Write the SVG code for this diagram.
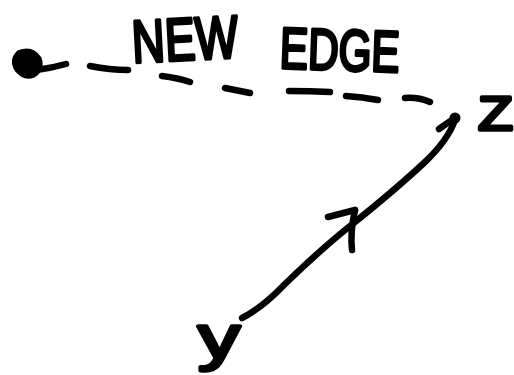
<svg xmlns="http://www.w3.org/2000/svg" width="514" height="375" viewBox="0 0 514 375">
<style>
.ln{fill:none;stroke:#000;stroke-width:6.5;stroke-linecap:round;stroke-linejoin:round}
.lbl{font-family:"Liberation Sans","DejaVu Sans",sans-serif;fill:#000;stroke:#000;stroke-width:3.5;stroke-linejoin:round}
</style>
<rect width="514" height="375" fill="#fff"/>
<g id="node-start">
<path d="M18 52 Q32 46 40 58 Q44 70 34 76 Q24 80 16 70 Q10 60 18 52 Z" fill="#000" stroke="#000" stroke-width="3"/>
</g>
<g id="node-z">
<circle cx="455" cy="118" r="5.5" fill="#000"/>
<text class="lbl" x="478" y="130" font-size="48" textLength="35" lengthAdjust="spacingAndGlyphs">Z</text>
</g>
<g id="node-y">
<text class="lbl" x="198" y="358" font-size="62" textLength="42" lengthAdjust="spacingAndGlyphs">y</text>
</g>
<g id="connectors">
<g id="edge-new">
<path class="ln" d="M36 70 Q52 68 66 64"/>
<path class="ln" d="M90 66 Q110 70 128 70"/>
<path class="ln" d="M162 76 Q178 78 190 82"/>
<path class="ln" d="M225 88 Q240 91 250 93"/>
<path class="ln" d="M289 91 Q310 91 330 92"/>
<path class="ln" d="M346 96 Q362 97 378 100"/>
<path class="ln" d="M405 98 Q418 97 430 102"/>
<path class="ln" d="M439 129 Q446 124 452 120"/>
</g>
<g id="edge-y-z">
<path class="ln" d="M242 318 Q262 308 285 284 Q320 250 350 226 Q395 190 425 162 Q448 140 455 120"/>
<path class="ln" d="M328 217 L355 210"/>
<path class="ln" d="M355 210 Q350 232 352 250" stroke-width="8"/>
</g>
<text class="lbl" x="132" y="60" font-size="60" textLength="106" lengthAdjust="spacingAndGlyphs" transform="rotate(-3 185 40)">NEW</text>
<text class="lbl" x="280" y="70" font-size="58" textLength="120" lengthAdjust="spacingAndGlyphs" transform="rotate(2 340 45)">EDGE</text>
</g>
</svg>
